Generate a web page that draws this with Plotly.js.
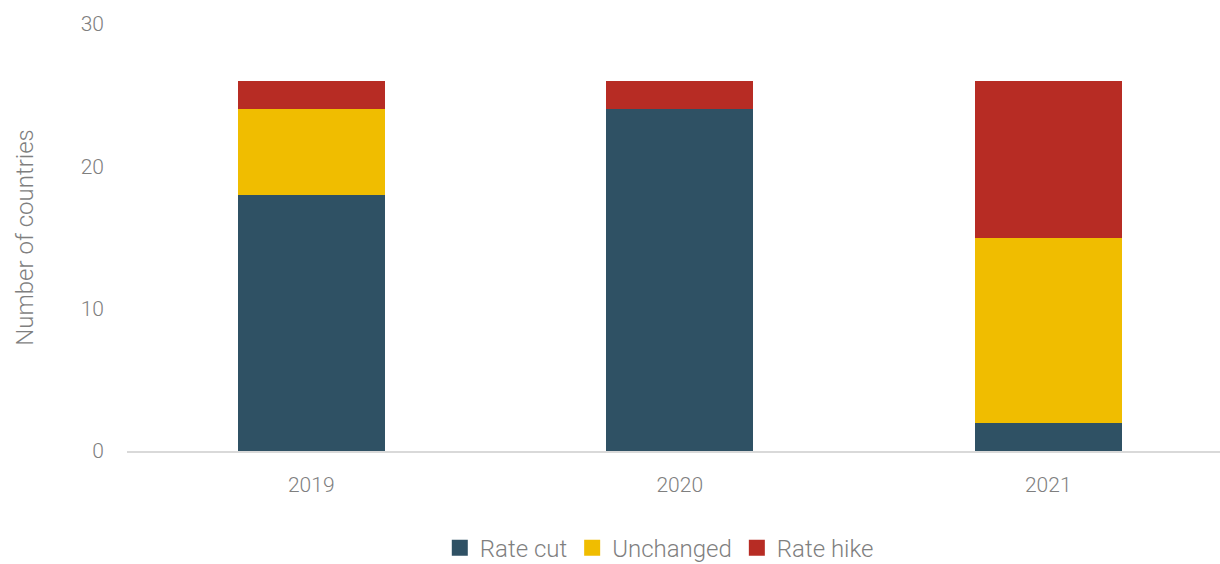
<!DOCTYPE html>
<html><head><meta charset="utf-8">
<script src="https://cdn.plot.ly/plotly-3.0.1.min.js"></script>
<style>html,body{margin:0;padding:0;background:#fff}#chart{width:1220px;height:564px}</style>
</head><body><div id="chart"></div>
<script>
const years = ['2019', '2020', '2021'];
const rateCut = [18, 24, 2];
const unchanged = [6, 0, 13];
const rateHike = [2, 2, 11];
const seriesNames = ['Rate cut', 'Unchanged', 'Rate hike'];
const colors = ['#2f5164', '#f0bd00', '#b72c24'];
const yTicks = [0, 10, 20, 30];

const font = {family: 'Roboto, sans-serif', color: '#7f7f7f', weight: 300};
const bars = [rateCut, unchanged, rateHike].map((vals, i) => ({
  type: 'bar', x: years, y: vals, name: seriesNames[i], showlegend: false,
  marker: {color: colors[i], line: {width: 0}}, hoverinfo: 'skip'
}));
const legendItems = seriesNames.map((n, i) => ({
  type: 'scatter', mode: 'markers', x: [null], y: [null], name: n,
  marker: {symbol: 'square', size: 17, color: colors[i]}
}));

const layout = {
  width: 1220, height: 564,
  margin: {l: 127, r: 0, t: 24, b: 113, autoexpand: false},
  barmode: 'stack', bargap: 0.6,
  paper_bgcolor: '#fff', plot_bgcolor: '#fff',
  font: Object.assign({size: 21}, font),
  xaxis: {
    type: 'category', range: [-0.5, 2.466], showgrid: false,
    showline: true, linecolor: '#d9d9d9', linewidth: 2,
    ticks: '', tickfont: Object.assign({size: 21}, font), ticklabelstandoff: 14
  },
  yaxis: {
    range: [0, 30], tickvals: yTicks, showgrid: false, zeroline: false, showline: false,
    ticks: '', tickfont: Object.assign({size: 21}, font), ticklabelstandoff: 22,
    title: {text: 'Number of countries', font: Object.assign({size: 24}, font), standoff: 40}
  },
  legend: {orientation: 'h', x: 0.487, xanchor: 'center', y: -0.175, yanchor: 'top',
    font: Object.assign({size: 24}, font), traceorder: 'normal', itemwidth: 30, itemsizing: 'trace'},
  showlegend: true
};
Plotly.newPlot('chart', bars.concat(legendItems), layout, {staticPlot: true});
</script></body></html>
